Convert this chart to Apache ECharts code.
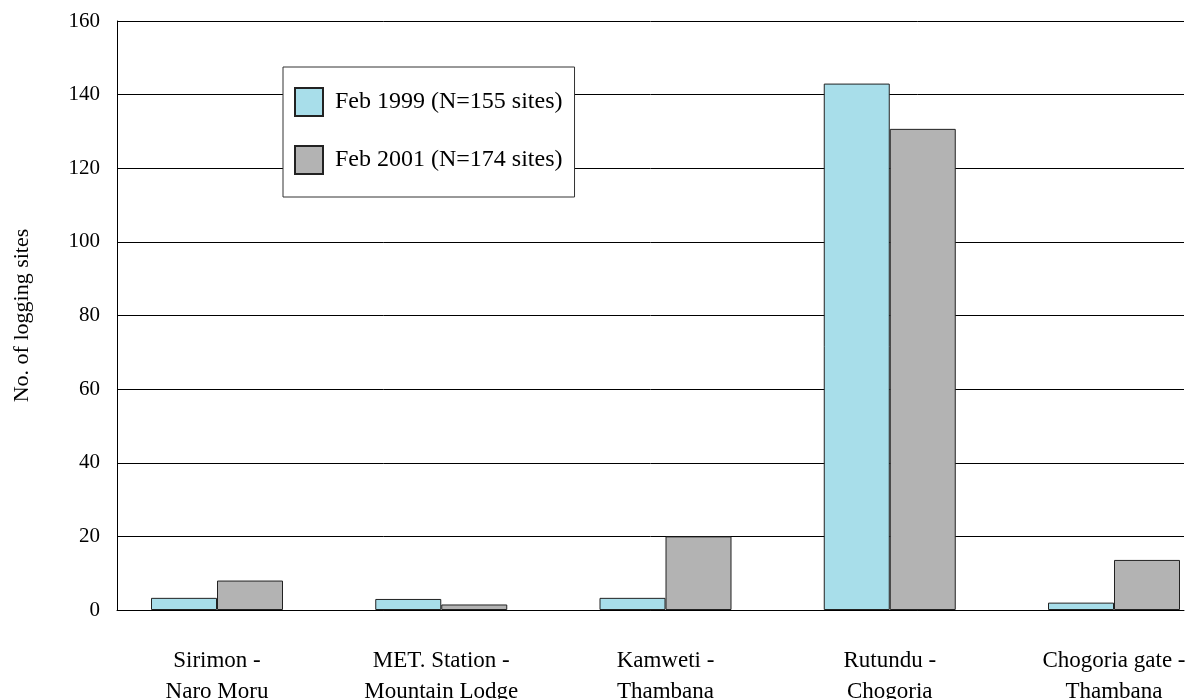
<!DOCTYPE html>
<html><head><meta charset="utf-8">
<script src="https://cdn.jsdelivr.net/npm/echarts@6/dist/echarts.min.js"></script>
<style>html,body{margin:0;padding:0;background:#fff}#c{width:1199px;height:699px}</style>
</head><body><div id="c"></div>
<script>
const categories = ['Sirimon -\nNaro Moru', 'MET. Station -\nMountain Lodge', 'Kamweti -\nThambana', 'Rutundu -\nChogoria', 'Chogoria gate -\nThambana'];
const seriesNames = ['Feb 1999 (N=155 sites)', 'Feb 2001 (N=174 sites)'];
const feb1999 = [3.3, 3, 3.3, 143, 2];
const feb2001 = [8, 1.5, 20, 130.7, 13.6];
const yTicks = [0, 20, 40, 60, 80, 100, 120, 140, 160];

const font = 'Liberation Serif, Times New Roman, serif';
const chart = echarts.init(document.getElementById('c'));
chart.setOption({
  animation: false,
  backgroundColor: '#fff',
  grid: [
    {left: 117, right: 15, top: 21, bottom: 89, containLabel: false, outerBoundsMode: 'none'},
    {left: 217, right: 85, top: 21, bottom: 89, containLabel: false, outerBoundsMode: 'none'}
  ],
  legend: {
    orient: 'vertical', left: 283, top: 67,
    backgroundColor: '#fff', borderColor: '#333', borderWidth: 1,
    padding: [20, 12, 22, 11], itemGap: 28, itemWidth: 28, itemHeight: 28,
    icon: 'rect',
    textStyle: {fontFamily: font, fontSize: 24, color: '#000', padding: [0, 0, 0, 7]},
    data: seriesNames
  },
  xAxis: [
    {gridIndex: 0, type: 'value', min: 0, max: 1,
     axisLine: {show: true, lineStyle: {color: '#000', width: 1}},
     axisTick: {show: false}, axisLabel: {show: false}, splitLine: {show: false}},
    {gridIndex: 1, type: 'category', data: categories, boundaryGap: false,
     axisLine: {show: false}, axisTick: {show: false}, splitLine: {show: false},
     axisLabel: {fontFamily: font, fontSize: 23, color: '#000', margin: 35, lineHeight: 31, interval: 0, hideOverlap: false}}
  ],
  yAxis: [
    {gridIndex: 0, type: 'value', min: yTicks[0], max: yTicks[yTicks.length - 1], interval: yTicks[1] - yTicks[0],
     name: 'No. of logging sites', nameLocation: 'middle', nameGap: 84, nameRotate: 90,
     nameTextStyle: {fontFamily: font, fontSize: 22, color: '#000'},
     axisLine: {show: true, lineStyle: {color: '#000', width: 1}},
     axisTick: {show: false},
     axisLabel: {fontFamily: font, fontSize: 21, color: '#000', margin: 17},
     splitLine: {show: true, lineStyle: {color: '#000', width: 1}}},
    {gridIndex: 1, type: 'value', min: 0, max: 160, show: false, splitLine: {show: false}}
  ],
  series: [
    {name: seriesNames[0], type: 'bar', xAxisIndex: 1, yAxisIndex: 1, data: feb1999,
     barWidth: 66, barGap: '0%', clip: false,
     itemStyle: {color: '#A8DEEA', borderColor: '#222', borderWidth: 1}},
    {name: seriesNames[1], type: 'bar', xAxisIndex: 1, yAxisIndex: 1, data: feb2001,
     barWidth: 66, barGap: '0%', clip: false,
     itemStyle: {color: '#B3B3B3', borderColor: '#222', borderWidth: 1}}
  ]
});
</script></body></html>
